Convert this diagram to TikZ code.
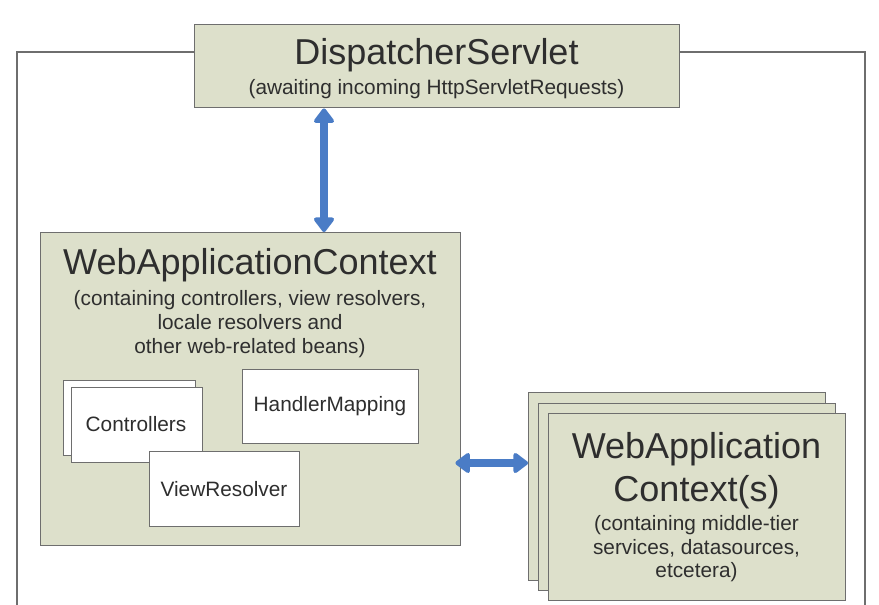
\documentclass[tikz,border=0pt]{standalone}
\usepackage{fontspec}
\setmainfont{Liberation Sans}
\usetikzlibrary{arrows.meta}
\definecolor{boxfill}{HTML}{DDE0CB}
\definecolor{boxline}{HTML}{6E6E6E}
\definecolor{txt}{HTML}{2E2E2E}
\definecolor{arrowblue}{HTML}{4A7CC6}
\tikzset{
  box/.style={draw=boxline, line width=1.4pt, fill=boxfill, inner sep=0pt, anchor=north west},
  wbox/.style={draw=boxline, line width=1.4pt, fill=white, inner sep=0pt, anchor=north west},
  big/.style={text=txt, inner sep=0pt, font=\fontsize{36}{43}\selectfont, align=center},
  small/.style={text=txt, inner sep=0pt, font=\fontsize{20.8}{24}\selectfont, align=center},
  bigarrow/.style={draw=arrowblue, line width=8pt, {Triangle[round, width=23pt, length=16pt]}-{Triangle[round, width=23pt, length=16pt]}},
}
\begin{document}
\begin{tikzpicture}[x=1pt,y=-1pt]
\useasboundingbox (0,0) rectangle (879,605);
% outer frame
\draw[boxline, line width=1.4pt] (17,606) -- (17,52) -- (865,52) -- (865,606);
% DispatcherServlet
\node[box, minimum width=485pt, minimum height=83pt] (ds) at (194,24) {};
\node[big] (dst) at (436.5,55) {DispatcherServlet};
\node[small] (dss) at (436.5,89) {(awaiting incoming HttpServletRequests)};
% WebApplicationContext
\node[box, minimum width=420pt, minimum height=313pt] (wac) at (40,232) {};
\node[big] (wact) at (250,265) {WebApplicationContext};
\node[small] (wacs) at (250,324) {(containing controllers, view resolvers,\\locale resolvers and\\other web-related beans)};
% inner boxes
\node[wbox, minimum width=132pt, minimum height=75pt] (ctrlb) at (63,380) {};
\node[wbox, minimum width=131pt, minimum height=75pt] (ctrl) at (71,387) {};
\node[small] (ctrlt) at (136,424) {Controllers};
\node[wbox, minimum width=176pt, minimum height=74pt] (hm) at (242,369) {};
\node[small] (hmt) at (330,406) {HandlerMapping};
\node[wbox, minimum width=150pt, minimum height=75pt] (vr) at (149,451) {};
\node[small] (vrt) at (224,489) {ViewResolver};
% right stack
\node[box, minimum width=297pt, minimum height=188pt] (r1) at (528,392) {};
\node[box, minimum width=297pt, minimum height=187pt] (r2) at (538,403) {};
\node[box, minimum width=297pt, minimum height=187pt] (r3) at (548,413) {};
\node[big] (r3t) at (696.5,471) {WebApplication\\Context(s)};
\node[small, font=\fontsize{20.8}{23.5}\selectfont] (r3s) at (696.5,549) {(containing middle-tier\\services, datasources,\\etcetera)};
% arrows
\draw[bigarrow] (ds.south -| 324,0) -- (wac.north -| 324,0);
\draw[bigarrow] ([xshift=-6pt]wac.east |- 0,463) -- (r1.west |- 0,463);
\end{tikzpicture}
\end{document}
